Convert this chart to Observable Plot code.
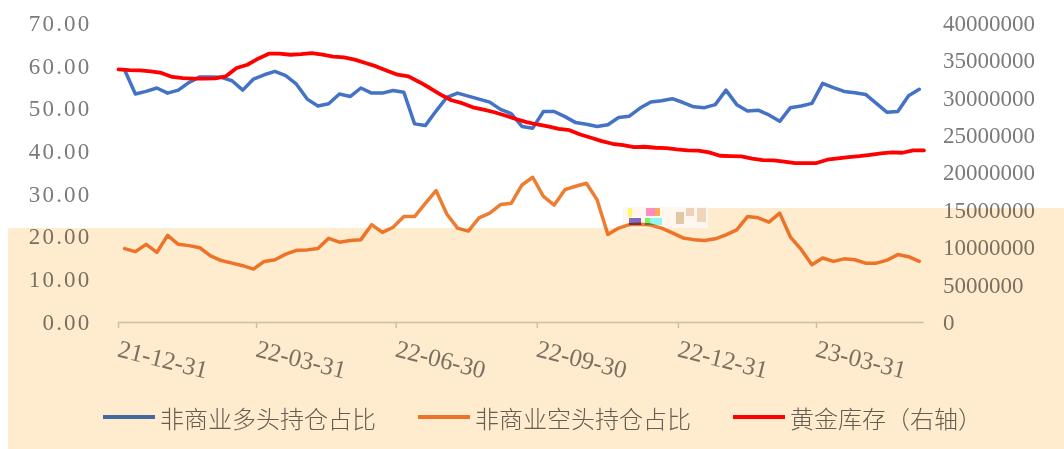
<!DOCTYPE html>
<html><head><meta charset="utf-8">
<script src="https://cdn.jsdelivr.net/npm/d3@7"></script>
<script src="https://cdn.jsdelivr.net/npm/@observablehq/plot@0.6"></script>
<style>
html,body{margin:0;padding:0;background:#fff;width:1064px;height:449px;overflow:hidden}
body{position:relative}
#chart svg{display:block}
.legend{position:absolute;left:0;top:402px;width:1064px;height:30px;font-family:"Noto Sans CJK SC",sans-serif;font-size:24px;font-weight:300;color:#666666}
.item{position:absolute;top:0;height:30px;display:flex;align-items:center;white-space:nowrap}
.sw{width:52px;height:4px;margin-right:5px}
.ov{position:absolute;mix-blend-mode:multiply;pointer-events:none}
</style></head>
<body>
<div id="chart"></div>
<div class="legend" id="legend"></div>
<script>
// ---- data ----
const seriesNames = ["非商业多头持仓占比", "非商业空头持仓占比", "黄金库存（右轴）"];
const seriesColors = ["#4472C4", "#ED7D31", "#FF0000"];
const cftcStart = "2022-01-04";   // weekly (Tuesday) positions
const stockStart = "2021-12-31";  // gold inventory, sampled weekly
const longShare = [59.1,53.5,54.1,54.9,53.7,54.4,56.2,57.5,57.5,57.4,56.6,54.4,57.0,58.0,58.8,57.8,55.8,52.3,50.7,51.2,
  53.5,52.9,54.9,53.7,53.7,54.3,53.9,46.5,46.1,49.5,52.7,53.7,53.0,52.3,51.6,49.9,48.9,45.9,45.5,49.4,
  49.4,48.2,46.8,46.4,45.9,46.3,48.0,48.3,50.2,51.6,51.9,52.4,51.5,50.5,50.3,51.0,54.4,51.0,49.5,49.7,
  48.6,47.1,50.3,50.7,51.3,56.0,55.0,54.1,53.8,53.4,51.3,49.2,49.4,53.1,54.6];
const shortShare = [17.3,16.6,18.3,16.4,20.4,18.3,18.0,17.5,15.6,14.5,13.9,13.3,12.5,14.3,14.7,16.0,16.9,17.0,17.3,19.7,
  18.8,19.2,19.4,22.9,21.1,22.3,24.8,24.8,27.9,30.9,25.4,22.1,21.4,24.5,25.6,27.6,27.9,32.2,34.0,29.5,
  27.5,31.1,31.9,32.6,28.7,20.6,22.1,22.9,23.0,22.8,22.1,21.0,19.8,19.4,19.2,19.6,20.5,21.7,24.8,24.5,
  23.5,25.6,20.0,17.1,13.5,15.1,14.3,14.9,14.7,13.9,13.9,14.6,15.9,15.4,14.3];
const goldStock = [33860000,33770000,33730000,33600000,33380000,32850000,32700000,32620000,32620000,32660000,
  32930000,34040000,34480000,35290000,35960000,35960000,35820000,35890000,36050000,35820000,
  35560000,35470000,35160000,34710000,34260000,33690000,33150000,32930000,32180000,31370000,
  30490000,29730000,29340000,28790000,28480000,28130000,27690000,27220000,26800000,26490000,
  26230000,25900000,25730000,25150000,24710000,24270000,23910000,23730000,23470000,23510000,
  23380000,23330000,23160000,23030000,22980000,22760000,22310000,22260000,22220000,21910000,
  21730000,21690000,21510000,21330000,21330000,21330000,21780000,21950000,22130000,22260000,
  22440000,22620000,22750000,22710000,23020000,23020000];
const leftTicks = [0,10,20,30,40,50,60,70];
const rightTicks = [0,5000000,10000000,15000000,20000000,25000000,30000000,35000000,40000000];
const xTicks = ["2021-12-31","2022-03-31","2022-06-30","2022-09-30","2022-12-31","2023-03-31"];

// ---- build ----
const k = 70 / 40000000;
const day = 864e5;
const cftc = longShare.map((v, i) => ({date: new Date(+new Date(cftcStart) + i * 7 * day), long: v, short: shortShare[i]}));
const stock = goldStock.map((v, i) => ({date: new Date(+new Date(stockStart) + i * 7 * day), v: v * k}));
const tickDates = xTicks.map(d => new Date(d));
const fmt = d3.utcFormat("%y-%m-%d");

const W = 1064, H = 398;
const chart = Plot.plot({
  width: W, height: H,
  marginLeft: 118, marginRight: W - 923.4, marginTop: 23, marginBottom: H - 322,
  x: {type: "utc", domain: [new Date("2021-12-31"), new Date("2023-06-09")], axis: null},
  y: {domain: [0, 70], axis: null},
  style: {background: "transparent", overflow: "visible"},
  marks: [
    Plot.text(leftTicks, {y: d => d, frameAnchor: "left", dx: -27, textAnchor: "end", text: d => d.toFixed(2),
      fontFamily: "Liberation Serif", fontSize: 23, fill: "#7a7a7a"}),
    Plot.text(rightTicks, {y: d => d * k, frameAnchor: "right", dx: 19, textAnchor: "start", text: d => String(d),
      fontFamily: "Liberation Serif", fontSize: 23, fill: "#7a7a7a"}),
    Plot.ruleY([0], {stroke: "#d0d0d0", strokeWidth: 1.5}),
    Plot.ruleX(tickDates, {y1: 0, y2: -1.4, stroke: "#d0d0d0", strokeWidth: 1.5}),
    Plot.text(tickDates, {x: d => d, y: 0, dy: 26, rotate: 14, textAnchor: "start", text: d => fmt(d),
      fontFamily: "Liberation Serif", fontSize: 25, fill: "#7a7a7a"}),
    Plot.line(cftc, {x: "date", y: "long", stroke: seriesColors[0], strokeWidth: 3.5}),
    Plot.line(cftc, {x: "date", y: "short", stroke: seriesColors[1], strokeWidth: 3.5}),
    Plot.line(stock, {x: "date", y: "v", stroke: seriesColors[2], strokeWidth: 3.8})
  ]
});
document.getElementById("chart").append(chart);
// wider spacing for left-axis labels (reference uses a wide full stop)
const textGroups = chart.querySelectorAll("g[aria-label='text']");
if (textGroups[0]) textGroups[0].setAttribute("letter-spacing", "2.2");

// legend
const lg = document.getElementById("legend");
const lx = [103, 418, 733];
seriesNames.forEach((n, i) => {
  const it = document.createElement("div");
  it.className = "item";
  it.style.left = lx[i] + "px";
  it.innerHTML = `<span class="sw" style="background:${seriesColors[i]}"></span><span>${n}</span>`;
  lg.append(it);
});

// tinted overlay present in the reference picture
const ovs = [
  [8, 228, 1056, 221, "#FFEBCD"],
  [708, 208, 356, 20, "#FFEBCD"],
  [623, 207, 85, 21, "#FFF6F0"],
  [628, 208, 4, 9, "#FFFF70"],
  [646, 208, 9, 8, "#FF90D0"],
  [655, 208, 5, 8, "#FFB060"],
  [629, 218, 12, 7, "#8070D0"],
  [645, 218, 5, 7, "#70FF70"],
  [650, 218, 12, 7, "#90FFFF"],
  [676, 212, 8, 12, "#E0D0B0"],
  [686, 208, 8, 8, "#EFD8C4"],
  [697, 208, 9, 14, "#F0DCC8"]
];
ovs.forEach(([x, y, w, h, c]) => {
  const d = document.createElement("div");
  d.className = "ov";
  Object.assign(d.style, {left: x + "px", top: y + "px", width: w + "px", height: h + "px", background: c});
  document.body.append(d);
});
</script>
</body></html>
